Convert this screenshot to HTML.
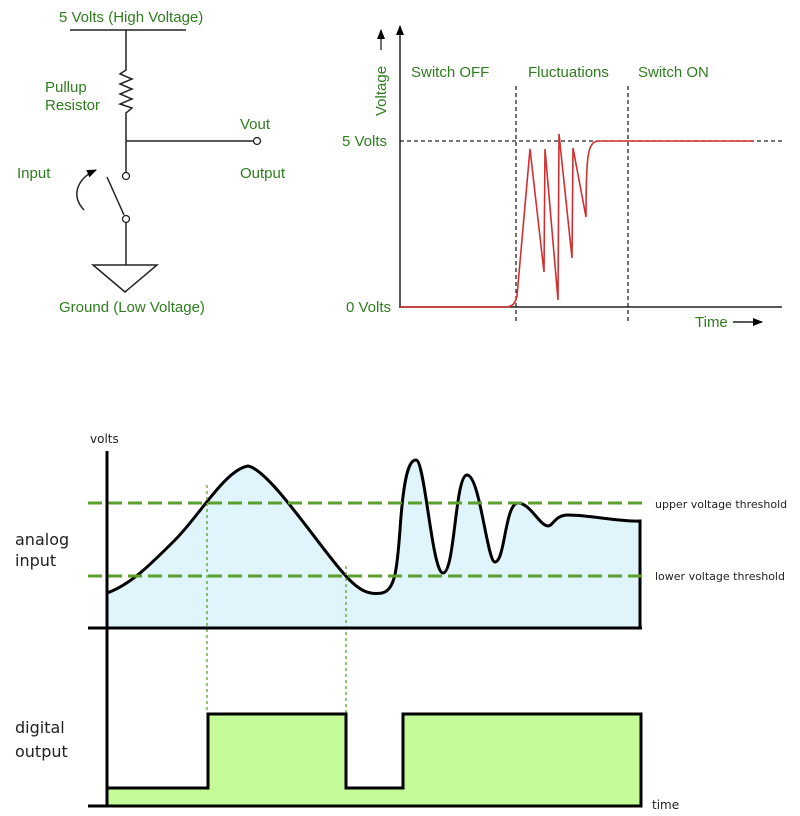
<!DOCTYPE html>
<html><head><meta charset="utf-8"><style>
html,body{margin:0;padding:0;background:#fff;}
svg{display:block;}
.g{fill:#2e7d1e;font-family:"Liberation Sans",sans-serif;font-size:15px;}
.k{fill:#222;font-family:"DejaVu Sans","Liberation Sans",sans-serif;}
</style></head><body>
<svg width="800" height="816" viewBox="0 0 800 816" xmlns="http://www.w3.org/2000/svg">
<defs>
<marker id="ah" markerWidth="10" markerHeight="8" refX="9" refY="4" orient="auto" markerUnits="userSpaceOnUse"><path d="M0,0 L10,4 L0,8 Z" fill="#000"/></marker>
</defs>
<!-- circuit -->
<text class="g" x="59" y="22">5 Volts (High Voltage)</text>
<line x1="70" y1="30" x2="186" y2="30" stroke="#222" stroke-width="1.5"/>
<polyline points="126,30 126,70 120,74 132,79 120,84 132,89 120,94 132,99 120,104 132,108 126,113 126,173" fill="none" stroke="#222" stroke-width="1.5"/>
<line x1="126" y1="141" x2="253" y2="141" stroke="#222" stroke-width="1.5"/>
<circle cx="257" cy="141" r="3.5" fill="#fff" stroke="#222" stroke-width="1.3"/>
<circle cx="126" cy="176" r="3.5" fill="#fff" stroke="#222" stroke-width="1.3"/>
<line x1="107" y1="177" x2="124" y2="215" stroke="#222" stroke-width="1.5"/>
<circle cx="126" cy="219" r="3.5" fill="#fff" stroke="#222" stroke-width="1.3"/>
<line x1="126" y1="223" x2="126" y2="265" stroke="#222" stroke-width="1.5"/>
<polygon points="93,265 157,265 125,292" fill="#fff" stroke="#222" stroke-width="1.5"/>
<path d="M84,210 C70,195 78,178 96,170" fill="none" stroke="#222" stroke-width="1.5" marker-end="url(#ah)"/>
<text class="g" x="45" y="92">Pullup</text>
<text class="g" x="45" y="110">Resistor</text>
<text class="g" x="240" y="129">Vout</text>
<text class="g" x="240" y="178">Output</text>
<text class="g" x="17" y="178">Input</text>
<text class="g" x="59" y="312">Ground (Low Voltage)</text>
<!-- voltage graph -->
<line x1="400" y1="308" x2="400" y2="26" stroke="#222" stroke-width="1.5" marker-end="url(#ah)"/>
<line x1="400" y1="307" x2="782" y2="307" stroke="#222" stroke-width="1.5"/>
<line x1="400" y1="141" x2="782" y2="141" stroke="#222" stroke-width="1.3" stroke-dasharray="4,3"/>
<line x1="516" y1="86" x2="516" y2="322" stroke="#222" stroke-width="1.3" stroke-dasharray="4,3"/>
<line x1="628" y1="86" x2="628" y2="322" stroke="#222" stroke-width="1.3" stroke-dasharray="4,3"/>
<text class="g" x="411" y="77">Switch OFF</text>
<text class="g" x="528" y="77">Fluctuations</text>
<text class="g" x="638" y="77">Switch ON</text>
<text class="g" x="342" y="146">5 Volts</text>
<text class="g" x="346" y="312">0 Volts</text>
<text class="g" transform="translate(386,116) rotate(-90)">Voltage</text>
<line x1="381" y1="50" x2="381" y2="30" stroke="#222" stroke-width="1.3" marker-end="url(#ah)"/>
<text class="g" x="695" y="327">Time</text>
<line x1="733" y1="322" x2="762" y2="322" stroke="#222" stroke-width="1.5" marker-end="url(#ah)"/>
<path d="M400,307 L506,307 C512,307 515,304 517,296 L530,149 L544,272 L545,149 L558,300 L559,134 L572,258 L573,148 L586,217 C586,150 588,141 600,141 L753,141" fill="none" stroke="#d03030" stroke-width="1.6"/>
<!-- analog -->
<path d="M107,593 C130,585 150,565 175,540 C200,515 225,470 248,466 C270,470 320,548 345,575 C360,592 370,595 382,593 C395,590 397,570 400,530 C404,470 410,460 416,460 C425,460 432,573 443,573 C455,573 455,475 467,475 C480,475 487,562 495,562 C505,562 505,503 518,503 C530,503 540,526 548,526 C553,526 555,515 568,515 C590,515 620,522 640,521 L640,628 L107,628 Z" fill="#e0f4fb" stroke="none"/>
<path d="M107,593 C130,585 150,565 175,540 C200,515 225,470 248,466 C270,470 320,548 345,575 C360,592 370,595 382,593 C395,590 397,570 400,530 C404,470 410,460 416,460 C425,460 432,573 443,573 C455,573 455,475 467,475 C480,475 487,562 495,562 C505,562 505,503 518,503 C530,503 540,526 548,526 C553,526 555,515 568,515 C590,515 620,522 640,521 L640,628" fill="none" stroke="#000" stroke-width="3"/>
<line x1="88" y1="503" x2="645" y2="503" stroke="#5aa02c" stroke-width="3" stroke-dasharray="14,6"/>
<line x1="88" y1="576" x2="645" y2="576" stroke="#5aa02c" stroke-width="3" stroke-dasharray="14,6"/>
<line x1="207" y1="485" x2="207" y2="714" stroke="#5aa02c" stroke-width="1.3" stroke-dasharray="3,3"/>
<line x1="346" y1="566" x2="346" y2="714" stroke="#5aa02c" stroke-width="1.3" stroke-dasharray="3,3"/>
<line x1="107" y1="451" x2="107" y2="807" stroke="#000" stroke-width="3"/>
<line x1="88" y1="628" x2="642" y2="628" stroke="#000" stroke-width="3"/>
<!-- digital -->
<path d="M107,788 L208,788 L208,714 L346,714 L346,788 L403,788 L403,714 L641,714 L641,806 L107,806 Z" fill="#c4fa98" stroke="#000" stroke-width="3"/>
<line x1="88" y1="806" x2="642" y2="806" stroke="#000" stroke-width="3"/>
<text class="k" x="90" y="443" font-size="12">volts</text>
<text class="k" x="15" y="545" font-size="16">analog</text>
<text class="k" x="15" y="566" font-size="16">input</text>
<text class="k" x="15" y="733" font-size="16">digital</text>
<text class="k" x="15" y="757" font-size="16">output</text>
<text class="k" x="655" y="508" font-size="11">upper voltage threshold</text>
<text class="k" x="655" y="580" font-size="11">lower voltage threshold</text>
<text class="k" x="652" y="809" font-size="12">time</text>
</svg>
</body></html>
